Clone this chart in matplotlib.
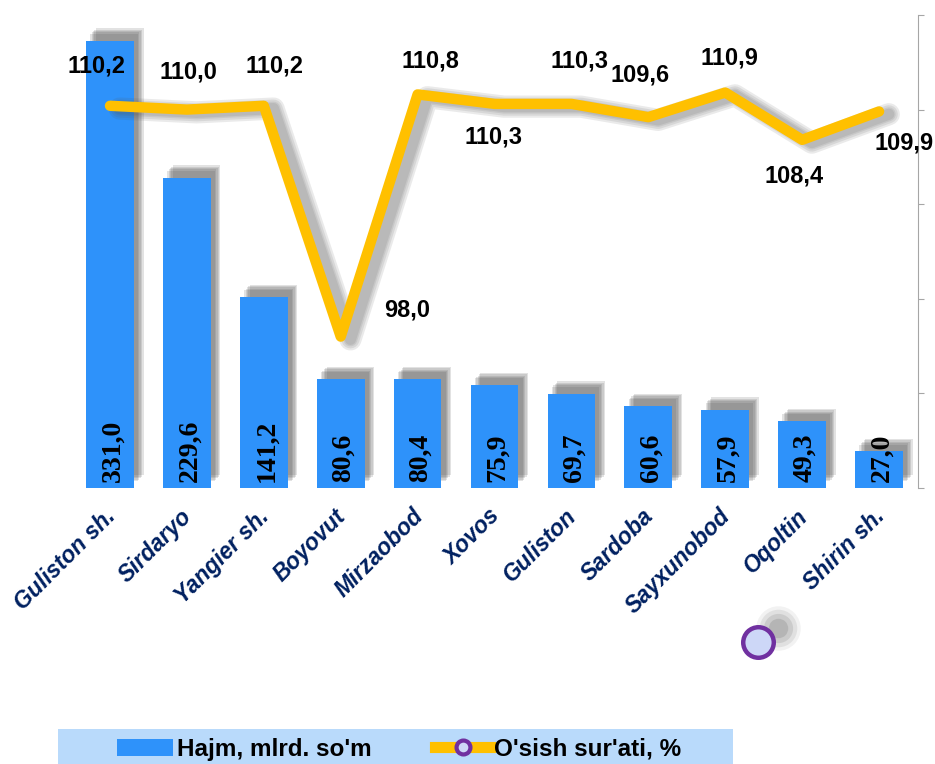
import matplotlib
matplotlib.use("Agg")
import matplotlib.pyplot as plt
import matplotlib.patheffects as pe
from matplotlib.lines import Line2D
from matplotlib.patches import Patch, Rectangle
from matplotlib.transforms import ScaledTranslation

categories = ["Guliston sh.", "Sirdaryo", "Yangier sh.", "Boyovut", "Mirzaobod", "Xovos",
              "Guliston", "Sardoba", "Sayxunobod", "Oqoltin", "Shirin sh."]
volume = [331.0, 229.6, 141.2, 80.6, 80.4, 75.9, 69.7, 60.6, 57.9, 49.3, 27.0]
growth = [110.2, 110.0, 110.2, 98.0, 110.8, 110.3, 110.3, 109.6, 110.9, 108.4, 109.9]

# label offsets for the growth values (points)
growth_offsets = [(-10, 29), (1, 27), (8, 29), (48, 19), (9, 24), (-1, -24),
                  (6, 31), (-6, 30), (3, 25), (-6, -26), (18, -23)]

BAR = "#2E92FA"
LINE = "#FFC000"
NAVY = "#002060"
SANS = "Liberation Sans"

fig = plt.figure(figsize=(9.35, 7.64), dpi=100)
ax = fig.add_axes([0.0765, 0.3613, 0.9048, 0.6191])
x = list(range(len(categories)))

bar_shadow = [pe.SimplePatchShadow(offset=(5 + d, 7 + d), shadow_rgbFace="#555555", alpha=0.17)
              for d in (-2, -1, 0, 1, 2)] + [pe.Normal()]
bars = ax.bar(x, volume, width=0.62, color=BAR, zorder=2)
for b in bars:
    b.set_path_effects(bar_shadow)

for xi, v in zip(x, volume):
    ax.annotate(f"{v:.1f}".replace(".", ","), (xi, 0), xytext=(2, 4), textcoords="offset points",
                rotation=90, ha="center", va="bottom", fontsize=20, fontweight="bold",
                family="Liberation Serif", color="black", zorder=5)

ax.set_xlim(-0.5, len(categories) - 0.5)
ax.set_ylim(0, 350)
ax.set_yticks([])
for s in ax.spines.values():
    s.set_visible(False)
ax.set_xticks(x)
ax.set_xticklabels(categories, rotation=45, ha="right", fontsize=16.5, fontweight="bold",
                   fontstyle="italic", family=SANS, color=NAVY)
ax.tick_params(axis="x", length=0, pad=12)
for lab in ax.get_xticklabels():
    lab.set_transform(lab.get_transform() + ScaledTranslation(0.10, 0, fig.dpi_scale_trans))

ax2 = ax.twinx()
ax2.set_ylim(90, 115)
ax2.set_yticks([90, 95, 100, 105, 110, 115])
ax2.set_yticklabels([])
for k in ("left", "top", "bottom"):
    ax2.spines[k].set_visible(False)
ax2.spines["right"].set_color("#A6A6A6")
ax2.tick_params(axis="y", direction="out", length=4, color="#A6A6A6")

line_shadow = [pe.SimpleLineShadow(offset=(7, -2), shadow_color="#555555", alpha=0.12, linewidth=w)
               for w in (16, 13, 10, 8)] + [pe.Normal()]
ax2.plot(x, growth, color=LINE, lw=7.5, solid_capstyle="round", solid_joinstyle="round",
         zorder=3, path_effects=line_shadow)

for xi, v, off in zip(x, growth, growth_offsets):
    ax2.annotate(f"{v:.1f}".replace(".", ","), (xi, v), xytext=off, textcoords="offset points",
                 ha="center", va="center", fontsize=17, fontweight="bold", family=SANS,
                 color="black", zorder=6, annotation_clip=False)

# stray marker below the axis
for r, a in ((32, 0.08), (27, 0.12), (21, 0.16), (14, 0.2)):
    fig.add_artist(Line2D([0.832], [0.178], transform=fig.transFigure, marker="o", ms=r,
                          mfc="#606060", mec="none", alpha=a, ls="none"))
fig.add_artist(Line2D([0.8107], [0.1597], transform=fig.transFigure, marker="o", ms=22,
                      mfc="#CDD7F7", mec="#7030A0", mew=3.2, ls="none"))

# legend band
fig.add_artist(Rectangle((0.062, 0.0), 0.722, 0.046, transform=fig.transFigure,
                         facecolor="#B9DAFB", edgecolor="none", zorder=0))
handles = [Patch(facecolor=BAR, edgecolor="none"),
           Line2D([0], [0], color=LINE, lw=8, marker="o", ms=10, mfc="#CDD7F7",
                  mec="#7030A0", mew=3)]
leg = fig.legend(handles, ["Hajm, mlrd. so'm", "O'sish sur'ati, %"], loc="center",
                 bbox_to_anchor=(0.427, 0.019), ncol=2, frameon=False, handlelength=2.3,
                 handleheight=0.75, handletextpad=0.15, columnspacing=2.6,
                 prop={"family": SANS, "weight": "bold", "size": 17.5})

fig.savefig("out.png", dpi=100)
